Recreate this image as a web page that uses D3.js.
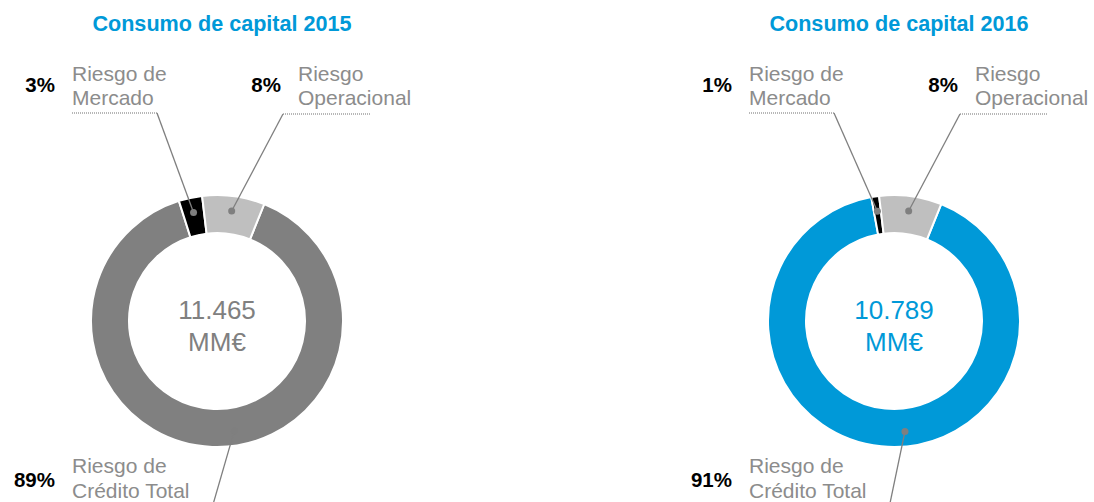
<!DOCTYPE html>
<html>
<head>
<meta charset="utf-8">
<script src="https://cdn.jsdelivr.net/npm/d3@7"></script>
<style>
  body { margin: 0; background: #fff; }
  text { font-family: "Liberation Sans", Arial, sans-serif; }
</style>
</head>
<body>
<div id="chart"></div>
<script>
const width = 1094;
const height = 502;

// datos
const categories = ["Riesgo de Crédito Total", "Riesgo de Mercado", "Riesgo Operacional"];
const years = ["2015", "2016"];
const values2015 = [89, 3, 8];
const values2016 = [91, 1, 8];
const totals = ["11.465", "10.789"];
const unit = "MM€";

// lineas de texto de cada etiqueta
const labelLines = [["Riesgo de", "Crédito Total"], ["Riesgo de", "Mercado"], ["Riesgo", "Operacional"]];

const creditColors = ["#808080", "#0099d8"];
const otherColors = [null, "#000000", "#bfbfbf"];

// posicion de las etiquetas respecto al centro del donut
// frac: donde cae el punto de la linea guia dentro del sector
const labelPos = [
    { nameX: -145, pctX: -162, y1: 152, y2: 177, pctY: 166, lineY: 187, lineX0: -145, lineX1: -5, frac: 0.465 },
    { nameX: -145, pctX: -162, y1: -240, y2: -216, pctY: -229, lineY: -208, lineX0: -145, lineX1: -60, frac: 0.5 },
    { nameX: 81, pctX: 64, y1: -240, y2: -216, pctY: -229, lineY: -207, lineX0: 66, lineX1: 153, frac: 0.5 }
];

const charts = [
    { cx: 217, cy: 321, values: values2015, year: years[0], total: totals[0], color: creditColors[0] },
    { cx: 894, cy: 321, values: values2016, year: years[1], total: totals[1], color: creditColors[1] }
];

const outerR = 126;
const innerR = 88;
const start = 22 * Math.PI / 180;

const pie = d3.pie().sort(null).startAngle(start).endAngle(start + 2 * Math.PI);
const arc = d3.arc().innerRadius(innerR).outerRadius(outerR);
const dotR = 111;

const svg = d3.select("#chart").append("svg")
    .attr("width", width)
    .attr("height", height);

svg.append("rect").attr("width", width).attr("height", height).attr("fill", "#fff");

charts.forEach(c => {
    const g = svg.append("g").attr("transform", `translate(${c.cx},${c.cy})`);
    const colors = [c.color, otherColors[1], otherColors[2]];
    const arcs = pie(c.values);

    // titulo
    svg.append("text")
        .attr("x", c.cx + 5)
        .attr("y", 31)
        .attr("text-anchor", "middle")
        .style("font-size", "21.6px")
        .style("font-weight", "bold")
        .style("fill", "#0099d8")
        .text("Consumo de capital " + c.year);

    g.selectAll("path.slice")
        .data(arcs)
        .enter().append("path")
        .attr("class", "slice")
        .attr("d", arc)
        .attr("fill", (d, i) => colors[i])
        .attr("stroke", "#fff")
        .attr("stroke-width", 2);

    // texto central
    g.append("text")
        .attr("x", 0).attr("y", -2)
        .attr("text-anchor", "middle")
        .style("font-size", "26px")
        .style("fill", c.color)
        .text(c.total);
    g.append("text")
        .attr("x", 0).attr("y", 30)
        .attr("text-anchor", "middle")
        .style("font-size", "26px")
        .style("fill", c.color)
        .text(unit);

    // etiquetas
    arcs.forEach((d, i) => {
        const p = labelPos[i];
        const a = d.startAngle + (d.endAngle - d.startAngle) * p.frac;
        const dot = [dotR * Math.sin(a), -dotR * Math.cos(a)];
        const lx = i === 2 ? p.lineX0 : p.lineX1;

        g.append("line")
            .attr("x1", p.lineX0).attr("x2", p.lineX1)
            .attr("y1", p.lineY).attr("y2", p.lineY)
            .attr("stroke", "#a0a0a0")
            .attr("stroke-width", 1.5)
            .attr("stroke-dasharray", "1,1");

        g.append("line")
            .attr("x1", lx).attr("y1", p.lineY)
            .attr("x2", dot[0]).attr("y2", dot[1])
            .attr("stroke", "#7f7f7f")
            .attr("stroke-width", 1.3);

        g.append("circle")
            .attr("cx", dot[0]).attr("cy", dot[1])
            .attr("r", 3.5)
            .attr("fill", "#7f7f7f");

        g.append("text")
            .attr("x", p.pctX).attr("y", p.pctY)
            .attr("text-anchor", "end")
            .style("font-size", "20.5px")
            .style("font-weight", "bold")
            .style("fill", "#000")
            .text(Math.round(d.value) + "%");

        const t = g.append("text")
            .style("font-size", "21px")
            .style("fill", "#8c8c8c");
        t.append("tspan").attr("x", p.nameX).attr("y", p.y1).text(labelLines[i][0]);
        t.append("tspan").attr("x", p.nameX).attr("y", p.y2).text(labelLines[i][1]);
    });
});
</script>
</body>
</html>
